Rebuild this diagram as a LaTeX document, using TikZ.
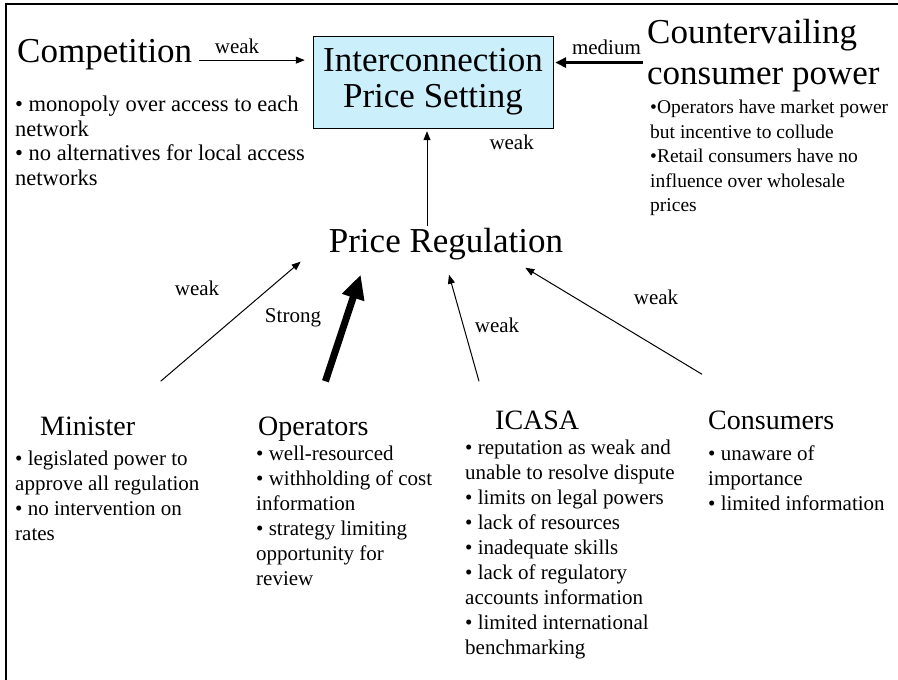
\documentclass[tikz,border=0pt]{standalone}
\usepackage{fontspec}
\setmainfont{Liberation Serif}
\usetikzlibrary{arrows.meta}

\begin{document}
\begin{tikzpicture}[x=1pt, y=-1pt,
  head/.style={inner sep=2pt, font=\fontsize{35}{41}\selectfont},
  sub/.style={inner sep=2pt, font=\fontsize{28}{32}\selectfont},
  bul/.style={inner sep=0pt, align=left, font=\fontsize{21}{25}\selectfont},
  lbl/.style={inner sep=0pt, font=\fontsize{21}{25}\selectfont},
  box/.style={draw, fill=cyan!20, minimum width=240pt, minimum height=92pt,
    align=center, inner sep=0pt, font=\fontsize{35}{36}\selectfont},
  wk/.style={-{Triangle[length=9pt,width=7pt]}, line width=1pt},
  md/.style={-{Triangle[length=11pt,width=10pt]}, line width=3.5pt},
  st/.style={-{Triangle[length=24pt,width=22pt]}, line width=7pt}]
  \useasboundingbox (0,0) rectangle (898,680);
  \draw[line width=2.2pt] (6,680) -- (6,4) -- (898,4);

  \node[box] (ips) at (433,82) {Interconnection\\Price Setting};

  \node[head, anchor=base west] (comp) at (15,62) {Competition};
  \node[bul, anchor=north west, font=\fontsize{22.5}{24.5}\selectfont] (compb) at (15,96)
    {• monopoly over access to each\\network\\• no alternatives for local access\\networks};
  \draw[wk, shorten <=5pt, shorten >=8pt] ([yshift=-6pt]comp.east) --
    node[lbl, above=6pt, pos=0.36] {weak} ([yshift=-6pt]comp.east -| ips.west);

  \node[head, anchor=north west, align=left] (cvp) at (645,17)
    {Countervailing\\consumer power};
  \node[bul, anchor=north west, font=\fontsize{19.5}{24.5}\selectfont] (cvpb) at (650,100)
    {•Operators have market power\\but incentive to collude\\•Retail consumers have no\\influence over wholesale\\prices};
  \draw[md, shorten <=2pt, shorten >=2pt] ([yshift=-7pt]cvp.west) --
    node[lbl, above=6pt, pos=0.42] {medium} ([yshift=-7pt]cvp.west -| ips.east);

  \node[head, anchor=base] (pr) at (446,252) {Price Regulation};
  \coordinate (vt) at ([xshift=-6pt]ips.south);
  \draw[wk, shorten >=3pt] (vt |- pr.north) --
    node[lbl, right=62pt, pos=0.86] {weak} (vt);

  % the four players below
  \node[sub, anchor=base west] (min) at (38,435) {Minister};
  \node[bul, anchor=north west] (minb) at (15,451)
    {• legislated power to\\approve all regulation\\• no intervention on\\rates};
  \node[sub, anchor=base west] (ops) at (256,435) {Operators};
  \node[bul, anchor=north west] (opsb) at (256,446)
    {• well-resourced\\• withholding of cost\\information\\• strategy limiting\\opportunity for\\review};
  \node[sub, anchor=base west] (ica) at (493,429) {ICASA};
  \node[bul, anchor=north west] (icab) at (465,440)
    {• reputation as weak and\\unable to resolve dispute\\• limits on legal powers\\• lack of resources\\• inadequate skills\\• lack of regulatory\\accounts information\\• limited international\\benchmarking};
  \node[sub, anchor=base west] (con) at (706,429) {Consumers};
  \node[bul, anchor=north west] (conb) at (708,446)
    {• unaware of\\importance\\• limited information};

  \draw[wk] ([shift={(73,-33)}]min.north) -- ([shift={(-26,18)}]pr.west);
  \draw[st] ([shift={(12,-33)}]ops.north) -- ([shift={(34,13)}]pr.south west);
  \draw[wk] ([shift={(-14,-27)}]ica.north west) -- ([shift={(3,13)}]pr.south);
  \draw[wk] ([shift={(-4,-34)}]con.north west) -- ([shift={(-40,6)}]pr.south east);

  \node[lbl] (wmin) at (197,288) {weak};
  \node[lbl] (wops) at (293,318) {Strong};
  \node[lbl] (wica) at (497,325) {weak};
  \node[lbl] (wcon) at (656,297) {weak};
\end{tikzpicture}
\end{document}
